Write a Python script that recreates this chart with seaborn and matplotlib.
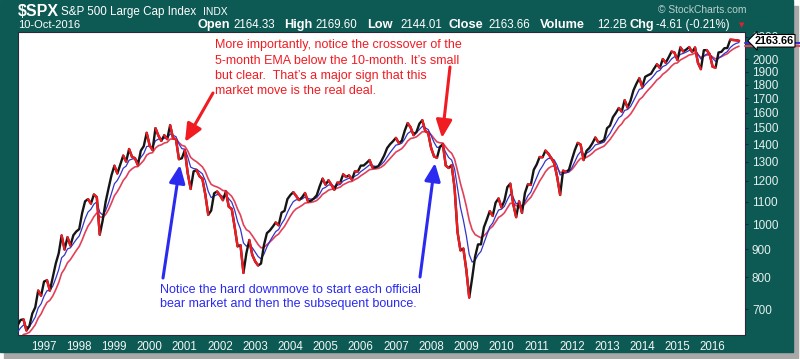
import numpy as np
import pandas as pd
import matplotlib
matplotlib.use("Agg")
import matplotlib.pyplot as plt
import seaborn as sns
from matplotlib.collections import LineCollection
from matplotlib.patches import Rectangle
from matplotlib.ticker import NullLocator, NullFormatter

# monthly closes of $SPX, Jan 1995 .. Oct 2016 (1995 only warms up the EMAs)
start_month = "1995-01"
spx_close = [
    470.42, 487.39, 500.71, 514.71, 533.40, 544.75, 562.06, 561.88, 584.41, 581.50, 605.37, 615.93,
    636.02, 640.43, 645.50, 654.17, 669.12, 670.63, 639.95, 651.99, 687.33, 705.27, 757.02, 740.74,
    786.16, 790.82, 757.12, 801.34, 848.28, 885.14, 954.29, 899.47, 947.28, 914.62, 955.40, 970.43,
    980.28, 1049.34, 1101.75, 1111.75, 1090.82, 1133.84, 1120.67, 957.28, 1017.01, 1098.67, 1163.63, 1229.23,
    1279.64, 1238.33, 1286.37, 1335.18, 1301.84, 1372.71, 1328.72, 1320.41, 1282.71, 1362.93, 1388.91, 1469.25,
    1394.46, 1366.42, 1498.58, 1452.43, 1420.60, 1454.60, 1430.83, 1517.68, 1436.51, 1429.40, 1314.95, 1320.28,
    1366.01, 1239.94, 1160.33, 1249.46, 1255.82, 1224.42, 1211.23, 1133.58, 1040.94, 1059.78, 1139.45, 1148.08,
    1130.20, 1106.73, 1147.39, 1076.92, 1067.14, 989.82, 911.62, 916.07, 815.28, 885.76, 936.31, 879.82,
    855.70, 841.15, 848.18, 916.92, 963.59, 974.50, 990.31, 1008.01, 995.97, 1050.71, 1058.20, 1111.92,
    1131.13, 1144.94, 1126.21, 1107.30, 1120.68, 1140.84, 1101.72, 1104.24, 1114.58, 1130.20, 1173.82, 1211.92,
    1181.27, 1203.60, 1180.59, 1156.85, 1191.50, 1191.33, 1234.18, 1220.33, 1228.81, 1207.01, 1249.48, 1248.29,
    1280.08, 1280.66, 1294.83, 1310.61, 1270.09, 1270.20, 1276.66, 1303.82, 1335.85, 1377.94, 1400.63, 1418.30,
    1438.24, 1406.82, 1420.86, 1482.37, 1530.62, 1503.35, 1455.27, 1473.99, 1526.75, 1549.38, 1481.14, 1468.36,
    1378.55, 1330.63, 1322.70, 1385.59, 1400.38, 1280.00, 1267.38, 1282.83, 1166.36, 968.75, 896.24, 903.25,
    825.88, 735.09, 797.87, 872.81, 919.14, 919.32, 987.48, 1020.62, 1057.08, 1036.19, 1095.63, 1115.10,
    1073.87, 1104.49, 1169.43, 1186.69, 1089.41, 1030.71, 1101.60, 1049.33, 1141.20, 1183.26, 1180.55, 1257.64,
    1286.12, 1327.22, 1325.83, 1363.61, 1345.20, 1320.64, 1292.28, 1218.89, 1131.42, 1253.30, 1246.96, 1257.60,
    1312.41, 1365.68, 1408.47, 1397.91, 1310.33, 1362.16, 1379.32, 1406.58, 1440.67, 1412.16, 1416.18, 1426.19,
    1498.11, 1514.68, 1569.19, 1597.57, 1630.74, 1606.28, 1685.73, 1632.97, 1681.55, 1756.54, 1805.81, 1848.36,
    1782.59, 1859.45, 1872.34, 1883.95, 1923.57, 1960.23, 1930.67, 2003.37, 1972.29, 2018.05, 2067.56, 2058.90,
    1994.99, 2104.50, 2067.89, 2085.51, 2107.39, 2063.11, 2103.84, 1972.18, 1920.03, 2079.36, 2080.41, 2043.94,
    1940.24, 1932.23, 2059.74, 2065.30, 2096.95, 2098.86, 2173.60, 2170.95, 2168.27, 2163.66,
]
year_ticks = list(range(1997, 2017))
price_ticks = [700, 800, 900, 1000, 1100, 1200, 1300, 1400, 1500, 1600, 1700, 1800, 1900, 2000, 2200]

header_quote = [("Open", "2164.33"), ("High", "2169.60"), ("Low", "2144.01"),
                ("Close", "2163.66"), ("Volume", "12.2B"), ("Chg", "-4.61 (-0.21%)")]
red_note = ["More importantly, notice the crossover of the",
            "5-month EMA below the 10-month. It\u2019s small",
            "but clear.  That\u2019s a major sign that this",
            "market move is the real deal."]
blue_note = ["Notice the hard downmove to start each official",
             "bear market and then the subsequent bounce."]

TEAL = "#0d5a55"
RED = "#f01c22"
BLUE = "#2a2af0"
EMA5_C = "#3434c8"
EMA10_C = "#e2405a"

dates = pd.date_range(start_month, periods=len(spx_close), freq="MS")
df = pd.DataFrame({"date": dates, "close": spx_close})
df["t"] = df["date"].dt.year + (df["date"].dt.month - 1) / 12
df["ema5"] = df["close"].ewm(span=5, adjust=False).mean()
df["ema10"] = df["close"].ewm(span=10, adjust=False).mean()

sns.set_style("white")
plt.rcParams["font.family"] = ["Liberation Sans", "DejaVu Sans"]

W, H = 800, 359
def fx(x):
    return x / W
def fy(y):
    return 1 - y / H

fig = plt.figure(figsize=(8, 3.59), dpi=100)
fig.patch.set_facecolor("white")
fig.patches.append(Rectangle((fx(4), fy(358)), fx(794), 352 / H, transform=fig.transFigure,
                             color="#a8a8a8", zorder=-3))
fig.patches.append(Rectangle((0, fy(352)), fx(793), 352 / H, transform=fig.transFigure,
                             color=TEAL, zorder=-2))

ax = fig.add_axes([fx(18), fy(335), fx(745 - 18), (335 - 32) / H])
ax.set_facecolor("white")

sns.lineplot(data=df, x="t", y="ema10", color=EMA10_C, lw=1.2, ax=ax, zorder=2)
sns.lineplot(data=df, x="t", y="ema5", color=EMA5_C, lw=0.9, ax=ax, zorder=3)
sns.lineplot(data=df, x="t", y="close", color="#151515", lw=1.7, ax=ax, zorder=4)

# down months in red
t = df["t"].to_numpy()
c = df["close"].to_numpy()
segs = [[(t[i - 1], c[i - 1]), (t[i], c[i])] for i in range(1, len(c)) if c[i] < c[i - 1]]
ax.add_collection(LineCollection(segs, colors=RED, linewidths=1.7, capstyle="round", zorder=5))

ax.set_yscale("log")
ax.set_ylim(628, 2245)
ax.set_xlim(1996.26, 2016.92)
ax.yaxis.tick_right()
ax.set_yticks(price_ticks)
ax.set_yticklabels([str(v) for v in price_ticks])
ax.yaxis.set_minor_locator(NullLocator())
ax.yaxis.set_minor_formatter(NullFormatter())
ax.set_xticks(year_ticks)
ax.set_xticklabels([str(y) for y in year_ticks])
ax.tick_params(axis="y", labelcolor="#e4efee", labelsize=8.5, length=2, color="#1c1c60", pad=3)
ax.tick_params(axis="x", labelcolor="#f2f6f6", labelsize=8.3, length=2, color="#1c1c60", pad=2)
ax.set_xlabel("")
ax.set_ylabel("")
for sp in ax.spines.values():
    sp.set_color("#2a2a3a")
    sp.set_linewidth(0.8)

# last-value tags on the right
ytr = ax.get_yaxis_transform()
ax.plot([1.0, 1.075], [df["ema10"].iloc[-1]] * 2, transform=ytr, clip_on=False, color=EMA10_C, lw=1.5, zorder=6)
ax.plot([1.0, 1.075], [df["ema5"].iloc[-1]] * 2, transform=ytr, clip_on=False, color=EMA5_C, lw=1.5, zorder=6)
ax.text(1.013, df["close"].iloc[-1], f"{df['close'].iloc[-1]:.2f}", transform=ytr, ha="left", va="center",
        fontsize=7.8, weight="bold", color="black", zorder=7, clip_on=False,
        bbox=dict(boxstyle="larrow,pad=0.12", fc="white", ec="black", lw=0.8))

# header
fig.text(fx(18), fy(12), "$SPX", fontsize=11.5, weight="bold", color="white", va="center", parse_math=False)
fig.text(fx(61), fy(12), "S&P 500 Large Cap Index", fontsize=8.4, color="white", va="center")
fig.text(fx(203), fy(12), "INDX", fontsize=7.4, color="white", va="center")
fig.text(fx(747), fy(10), "\u00a9 StockCharts.com", fontsize=7.4, color="#b9cfcc", va="center", ha="right")
fig.text(fx(18), fy(25), "10-Oct-2016", fontsize=8, color="white", va="center")
label_x = [197, 284, 367, 448, 540, 630]
value_x = [233, 315, 400, 488, 597, 656]
for (lab, val), lx, vx in zip(header_quote, label_x, value_x):
    fig.text(fx(lx), fy(25), lab, fontsize=9.2, weight="bold", color="white", va="center")
    fig.text(fx(vx), fy(25), val, fontsize=8.3, color="white", va="center")
fig.text(fx(742), fy(25), "\u25bc", fontsize=5, color="#e0202c", va="center", ha="center",
         family=["DejaVu Sans"])

# notes
for line, y in zip(red_note, [45, 60.5, 75.5, 90.5]):
    fig.text(fx(215), fy(y), line, fontsize=9.0, color=RED, va="center")
for line, y in zip(blue_note, [290, 304]):
    fig.text(fx(160), fy(y), line, fontsize=9.0, color=BLUE, va="center")

arrows = [((213, 93), (185, 142), RED), ((450, 67), (442, 138), RED),
          ((163, 278), (180, 165), BLUE), ((420, 277), (435, 163), BLUE)]
for (x0, y0), (x1, y1), col in arrows:
    ax.annotate("", xy=(fx(x1), fy(y1)), xycoords="figure fraction",
                xytext=(fx(x0), fy(y0)), textcoords="figure fraction",
                arrowprops=dict(arrowstyle="-|>,head_length=0.9,head_width=0.4", color=col, lw=2.2,
                                mutation_scale=12, shrinkA=0, shrinkB=0),
                annotation_clip=False, zorder=8)

fig.savefig("out.png", dpi=100)
